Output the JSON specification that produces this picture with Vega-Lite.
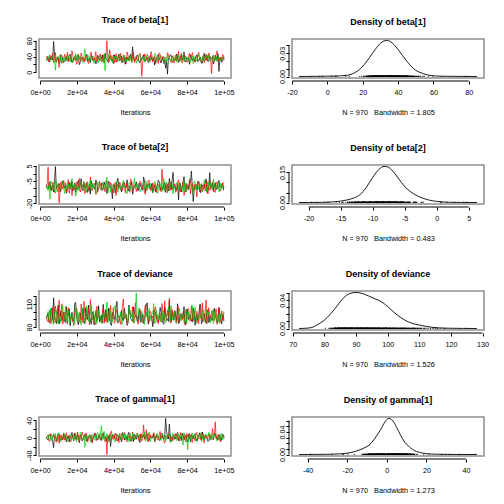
{
"$schema": "https://vega.github.io/schema/vega-lite/v6.json",
"padding": {"left": 24, "top": 15, "right": 0, "bottom": 0},
"background": "white",
"config": {
  "font": "Liberation Sans",
  "view": {"stroke": "#8f8f8f", "strokeWidth": 1.5},
  "axis": {"grid": false, "domain": false, "tickColor": "black", "tickSize": 3, "tickWidth": 1, "offset": 3,
           "labelFont": "Liberation Sans", "labelFontSize": 7.2, "labelColor": "black", "labelOverlap": false, "labelFlush": false, "labelBound": false,
           "titleFont": "Liberation Sans", "titleFontSize": 7.3, "titleFontWeight": "normal", "titleColor": "black"},
  "axisX": {"labelBaseline": "alphabetic", "labelPadding": 10, "labelAngle": 0, "titleBaseline": "alphabetic", "titlePadding": 19.5},
  "axisY": {"labelAngle": -90, "labelAlign": "center", "labelBaseline": "alphabetic", "labelPadding": 2},
  "title": {"font": "Liberation Sans", "fontSize": 9, "fontWeight": "bold", "color": "black", "baseline": "alphabetic", "offset": 12, "anchor": "middle", "frame": "group"}
},
"datasets": {
"tr": [
{"it":3300,"a1":30.4,"a2":36.1,"a3":33.7,"b1":-7.3,"b2":-9.6,"b3":-8.2,"d1":90.5,"d2":94.2,"d3":92.8,"g1":2.3,"g2":-1.6,"g3":4.1},
{"it":4300,"a1":38.2,"a2":28.7,"a3":40.3,"b1":-10.1,"b2":4.2,"b3":-11.4,"d1":98.1,"d2":86.6,"d3":100.3,"g1":-5.2,"g2":6.8,"g3":-3.5},
{"it":5300,"a1":26.8,"a2":44.3,"a3":29.1,"b1":-5.6,"b2":-7.2,"b3":-17.1,"d1":85.7,"d2":102.4,"d3":87.2,"g1":8.6,"g2":-8.1,"g3":7.4},
{"it":6300,"a1":41.5,"a2":31.9,"a3":36.6,"b1":-9.2,"b2":-11.8,"b3":-6.5,"d1":104.3,"d2":91.7,"d3":95.6,"g1":-2.7,"g2":3.4,"g3":-6.2},
{"it":7300,"a1":78.1,"a2":25.4,"a3":24.2,"b1":-12.4,"b2":-6.3,"b3":-9.8,"d1":118.2,"d2":84.9,"d3":83.1,"g1":-22.4,"g2":9.3,"g3":1.8},
{"it":8300,"a1":29.6,"a2":50.2,"a3":5.3,"b1":4.7,"b2":-13.1,"b3":-4.6,"d1":88.4,"d2":107.3,"d3":103.5,"g1":4.5,"g2":-4.7,"g3":10.2},
{"it":9300,"a1":35.3,"a2":33.8,"a3":38.9,"b1":-8.5,"b2":-8.9,"b3":-12.3,"d1":95.9,"d2":89.1,"d3":90.7,"g1":-7.1,"g2":1.2,"g3":-2.8},
{"it":10300,"a1":22.7,"a2":12.4,"a3":31.2,"b1":-6.7,"b2":-19.6,"b3":-7.4,"d1":83.6,"d2":115.2,"d3":97.3,"g1":10.3,"g2":-12.6,"g3":5.7},
{"it":11300,"a1":44.2,"a2":40.6,"a3":45.5,"b1":-11.3,"b2":-5.4,"b3":-10.7,"d1":101.2,"d2":95.5,"d3":85.4,"g1":0.6,"g2":7.2,"g3":-9.3},
{"it":12300,"a1":31.9,"a2":29.3,"a3":27.8,"b1":-4.8,"b2":-10.3,"b3":-5.2,"d1":92.3,"d2":83.8,"d3":108.1,"g1":-4.2,"g2":2.9,"g3":3.6},
{"it":13300,"a1":27.2,"a2":45.7,"a3":35.4,"b1":-9.7,"b2":-7.5,"b3":-13.3,"d1":87.8,"d2":99.4,"d3":93.6,"g1":6.1,"g2":-5.3,"g3":8.4},
{"it":14300,"a1":39.6,"a2":32.2,"a3":30.9,"b1":-13.2,"b2":-12.4,"b3":-8.7,"d1":106.5,"d2":90.9,"d3":88.2,"g1":-9.4,"g2":11.5,"g3":-1.2},
{"it":15300,"a1":33.1,"a2":26.6,"a3":42.4,"b1":-7.6,"b2":-4.1,"b3":-6.9,"d1":94.7,"d2":105.1,"d3":101.8,"g1":3.8,"g2":0.4,"g3":-7.6},
{"it":16300,"a1":46.3,"a2":38.5,"a3":26.7,"b1":-10.4,"b2":-9.8,"b3":-10.2,"d1":81.4,"d2":87.3,"d3":84.9,"g1":-1.5,"g2":-7.3,"g3":6.3},
{"it":17300,"a1":24.9,"a2":54.8,"a3":37.3,"b1":-5.1,"b2":-14.7,"b3":-3.4,"d1":99.2,"d2":93.5,"d3":96.1,"g1":12.2,"g2":4.6,"g3":2.5},
{"it":18300,"a1":36.7,"a2":30.1,"a3":33.2,"b1":-8.3,"b2":-8.2,"b3":-9.5,"d1":90.1,"d2":81.7,"d3":91.4,"g1":-6.8,"g2":8.1,"g3":-4.9},
{"it":19300,"a1":30.2,"a2":42.9,"a3":48.1,"b1":-12.6,"b2":-6.7,"b3":-15.2,"d1":112.4,"d2":101.6,"d3":105.3,"g1":1.7,"g2":-3.8,"g3":11.3},
{"it":20300,"a1":42.8,"a2":24.2,"a3":28.6,"b1":-6.2,"b2":-11.1,"b3":-7.8,"d1":86.2,"d2":96.8,"d3":86.7,"g1":7.4,"g2":13.2,"g3":0.3},
{"it":21300,"a1":19.4,"a2":37.6,"a3":34.5,"b1":-9.9,"b2":-3.3,"b3":-11.6,"d1":96.6,"d2":88.4,"d3":99.9,"g1":-11.2,"g2":-9.5,"g3":-5.1},
{"it":22300,"a1":34.5,"a2":49.1,"a3":39.2,"b1":-3.4,"b2":-10.8,"b3":-5.9,"d1":89.3,"d2":110.1,"d3":82.5,"g1":4.9,"g2":1.7,"g3":9.2},
{"it":23300,"a1":38.3,"a2":27.8,"a3":25.6,"b1":-11.5,"b2":-8.4,"b3":-9.1,"d1":103.8,"d2":85.3,"d3":94.2,"g1":-3.6,"g2":5.4,"g3":-2.2},
{"it":24300,"a1":28.1,"a2":35.5,"a3":59.7,"b1":-8.8,"b2":-13.6,"b3":-6.3,"d1":84.2,"d2":97.6,"d3":90.6,"g1":9.1,"g2":-6.2,"g3":-21.8},
{"it":25300,"a1":45.6,"a2":41.2,"a3":32.3,"b1":-6.1,"b2":-6.5,"b3":-12.8,"d1":93.1,"d2":92.2,"d3":107.7,"g1":-7.5,"g2":10.7,"g3":5.3},
{"it":26300,"a1":32.4,"a2":22.6,"a3":41.8,"b1":-10.7,"b2":-9.1,"b3":-8.4,"d1":108.6,"d2":104.7,"d3":87.4,"g1":2.8,"g2":-2.4,"g3":1.6},
{"it":27300,"a1":25.3,"a2":46.9,"a3":29.4,"b1":-13.8,"b2":-2.3,"b3":-4.2,"d1":88.9,"d2":115.8,"d3":98.3,"g1":5.2,"g2":3.1,"g3":-8.4},
{"it":28300,"a1":40.7,"a2":33.3,"a3":36.2,"b1":-7.2,"b2":-11.4,"b3":-10.6,"d1":97.4,"d2":89.6,"d3":92.1,"g1":-10.3,"g2":-11.1,"g3":7.7},
{"it":29300,"a1":35.8,"a2":29.9,"a3":22.9,"b1":-9.4,"b2":-7.7,"b3":-7.1,"d1":82.7,"d2":94.3,"d3":85.8,"g1":0.9,"g2":7.6,"g3":3.2},
{"it":30300,"a1":21.3,"a2":52.4,"a3":38.4,"b1":-4.3,"b2":-14.2,"b3":-13.5,"d1":100.6,"d2":83.1,"d3":102.2,"g1":8.3,"g2":0.2,"g3":-4.4},
{"it":31300,"a1":43.2,"a2":31.6,"a3":34.9,"b1":-12.1,"b2":-8.6,"b3":-5.7,"d1":91.5,"d2":100.9,"d3":89.5,"g1":-4.8,"g2":-4.5,"g3":12.1},
{"it":32300,"a1":30.6,"a2":38.2,"a3":43.3,"b1":-8.6,"b2":-5.2,"b3":-9.3,"d1":86.4,"d2":91.3,"d3":96.9,"g1":3.4,"g2":9.6,"g3":-1.7},
{"it":33300,"a1":36.2,"a2":26.4,"a3":30.5,"b1":-6.4,"b2":-10.5,"b3":-11.2,"d1":95.3,"d2":87.2,"d3":84.3,"g1":-6.3,"g2":-1.9,"g3":27.6},
{"it":34300,"a1":27.5,"a2":43.7,"a3":27.3,"b1":-10.6,"b2":-7.3,"b3":-6.8,"d1":109.7,"d2":103.4,"d3":99.1,"g1":11.4,"g2":6.3,"g3":4.7},
{"it":35300,"a1":47.9,"a2":34.2,"a3":4.6,"b1":-8.1,"b2":-12.2,"b3":-8.3,"d1":87.3,"d2":95.8,"d3":91.6,"g1":1.1,"g2":-8.2,"g3":-6.5},
{"it":36300,"a1":33.6,"a2":79.8,"a3":37.1,"b1":-13.4,"b2":-4.6,"b3":-2.4,"d1":92.6,"d2":86.1,"d3":112.8,"g1":-8.7,"g2":-38.6,"g3":9.4},
{"it":37300,"a1":24.4,"a2":28.1,"a3":44.6,"b1":-5.3,"b2":-9.4,"b3":-10.1,"d1":104.9,"d2":98.5,"d3":88.3,"g1":4.2,"g2":4.8,"g3":0.5},
{"it":38300,"a1":39.1,"a2":40.5,"a3":31.4,"b1":-9.6,"b2":-6.1,"b3":-12.7,"d1":83.2,"d2":108.2,"d3":95.2,"g1":-19.7,"g2":12.3,"g3":-3.3},
{"it":39300,"a1":31.7,"a2":32.7,"a3":26.2,"b1":-16.8,"b2":-11.7,"b3":-7.6,"d1":98.4,"d2":90.4,"d3":86.6,"g1":6.6,"g2":-3.1,"g3":8.8},
{"it":40300,"a1":44.5,"a2":23.3,"a3":40.8,"b1":-7.7,"b2":-8.3,"b3":-9.2,"d1":90.2,"d2":84.6,"d3":104.4,"g1":-2.1,"g2":7.5,"g3":-7.2},
{"it":41300,"a1":26.6,"a2":47.4,"a3":33.5,"b1":-11.1,"b2":-14.8,"b3":-5.5,"d1":106.1,"d2":102.7,"d3":92.9,"g1":9.5,"g2":-6.6,"g3":2.1},
{"it":42300,"a1":37.3,"a2":36.6,"a3":29.7,"b1":-3.2,"b2":-7.1,"b3":-12.4,"d1":85.1,"d2":93.3,"d3":97.4,"g1":-5.7,"g2":2.4,"g3":6.9},
{"it":43300,"a1":29.3,"a2":30.8,"a3":46.2,"b1":-8.4,"b2":-5.7,"b3":-7.3,"d1":93.9,"d2":88.7,"d3":90.2,"g1":2.6,"g2":10.1,"g3":-5.4},
{"it":44300,"a1":41.1,"a2":25.6,"a3":32.7,"b1":-12.3,"b2":-10.2,"b3":-10.4,"d1":101.8,"d2":96.1,"d3":83.5,"g1":-9.2,"g2":-5.6,"g3":10.5},
{"it":45300,"a1":34.8,"a2":44.1,"a3":25.2,"b1":-6.6,"b2":-8.7,"b3":-4.5,"d1":88.3,"d2":116.6,"d3":101.3,"g1":7.3,"g2":1.5,"g3":1.4},
{"it":46300,"a1":20.6,"a2":37.3,"a3":39.6,"b1":-9.1,"b2":-12.9,"b3":-8.6,"d1":96.2,"d2":91.2,"d3":94.8,"g1":0.2,"g2":8.8,"g3":-2.6},
{"it":47300,"a1":38.7,"a2":51.6,"a3":35.1,"b1":-4.2,"b2":-6.4,"b3":-13.7,"d1":82.1,"d2":85.4,"d3":87.6,"g1":-4.1,"g2":-9.2,"g3":7.1},
{"it":48300,"a1":32.1,"a2":29.5,"a3":28.3,"b1":-10.2,"b2":-9.2,"b3":-6.4,"d1":108.8,"d2":100.3,"d3":106.4,"g1":12.8,"g2":3.7,"g3":-9.1},
{"it":49300,"a1":46.4,"a2":35.2,"a3":42.6,"b1":-7.4,"b2":-3.6,"b3":-11.1,"d1":91.1,"d2":94.6,"d3":92.3,"g1":-7.4,"g2":-2.3,"g3":4.3},
{"it":50300,"a1":64.7,"a2":41.4,"a3":30.3,"b1":-13.9,"b2":-11.3,"b3":-9.7,"d1":87.6,"d2":106.8,"d3":98.7,"g1":3.5,"g2":13.6,"g3":11.2},
{"it":51300,"a1":28.5,"a2":24.9,"a3":37.5,"b1":-8.2,"b2":-7.6,"b3":-3.1,"d1":99.6,"d2":89.2,"d3":85.2,"g1":8.1,"g2":-4.3,"g3":-3.7},
{"it":52300,"a1":35.5,"a2":39.7,"a3":23.4,"b1":-5.5,"b2":-12.1,"b3":-8.8,"d1":94.4,"d2":97.1,"d3":124.6,"g1":-3.2,"g2":6.4,"g3":0.7},
{"it":53300,"a1":40.2,"a2":33.9,"a3":34.3,"b1":-11.6,"b2":-8.8,"b3":-10.5,"d1":86.8,"d2":83.4,"d3":93.5,"g1":5.6,"g2":0.8,"g3":6.5},
{"it":54300,"a1":23.8,"a2":48.3,"a3":41.1,"b1":-7.1,"b2":-5.1,"b3":-12.2,"d1":103.2,"d2":101.9,"d3":89.7,"g1":-10.8,"g2":9.2,"g3":-4.6},
{"it":55300,"a1":33.3,"a2":-9.6,"a3":29.8,"b1":-9.5,"b2":-10.6,"b3":-6.2,"d1":90.7,"d2":92.5,"d3":100.6,"g1":1.4,"g2":-7.7,"g3":9.6},
{"it":56300,"a1":44.9,"a2":38.4,"a3":36.8,"b1":-2.3,"b2":-7.4,"b3":-8.1,"d1":84.5,"d2":88.1,"d3":86.3,"g1":6.7,"g2":29.6,"g3":2.2},
{"it":57300,"a1":30.1,"a2":27.2,"a3":45.1,"b1":-12.2,"b2":-13.9,"b3":-4.7,"d1":97.2,"d2":109.4,"d3":95.7,"g1":-2.2,"g2":2.6,"g3":-7.8},
{"it":58300,"a1":37.6,"a2":45.5,"a3":31.6,"b1":-8.7,"b2":-9.5,"b3":-11.3,"d1":111.7,"d2":95.3,"d3":91.2,"g1":9.3,"g2":-5.8,"g3":5.5},
{"it":59300,"a1":26.3,"a2":31.1,"a3":27.4,"b1":-6.8,"b2":-4.3,"b3":-7.2,"d1":89.8,"d2":86.2,"d3":104.1,"g1":-6.1,"g2":11.2,"g3":12.7},
{"it":60300,"a1":42.4,"a2":52.7,"a3":38.5,"b1":-10.3,"b2":-11.5,"b3":-9.6,"d1":93.3,"d2":99.7,"d3":88.6,"g1":4.4,"g2":-1.3,"g3":-1.4},
{"it":61300,"a1":31.2,"a2":26.3,"a3":33.9,"b1":-12.9,"b2":-6.2,"b3":-12.6,"d1":80.3,"d2":93.9,"d3":97.8,"g1":0.4,"g2":4.1,"g3":3.8},
{"it":62300,"a1":18.3,"a2":40.4,"a3":47.7,"b1":-7.5,"b2":-8.1,"b3":-5.4,"d1":100.4,"d2":104.2,"d3":84.6,"g1":-8.3,"g2":-9.7,"g3":-6.4},
{"it":63300,"a1":36.4,"a2":35.6,"a3":26.1,"b1":-9.3,"b2":-12.7,"b3":-8.5,"d1":92.1,"d2":90.3,"d3":102.5,"g1":7.6,"g2":6.2,"g3":8.3},
{"it":64300,"a1":45.2,"a2":22.4,"a3":35.7,"b1":-4.4,"b2":-7.8,"b3":-10.3,"d1":87.1,"d2":84.2,"d3":90.1,"g1":2.1,"g2":-3.4,"g3":0.1},
{"it":65300,"a1":29.7,"a2":46.1,"a3":40.1,"b1":-11.4,"b2":-9.3,"b3":-6.6,"d1":105.6,"d2":97.5,"d3":94.3,"g1":-5.3,"g2":14.7,"g3":-3.1},
{"it":66300,"a1":34.2,"a2":30.6,"a3":30.2,"b1":-8.9,"b2":2.8,"b3":-12.1,"d1":95.1,"d2":110.8,"d3":87.9,"g1":10.2,"g2":1.6,"g3":10.8},
{"it":67300,"a1":22.1,"a2":39.3,"a3":24.7,"b1":-6.3,"b2":-10.4,"b3":-3.2,"d1":83.4,"d2":88.5,"d3":99.3,"g1":-1.8,"g2":-8.4,"g3":4.2},
{"it":68300,"a1":10.4,"a2":28.2,"a3":37.6,"b1":-12.7,"b2":-6.6,"b3":-9.4,"d1":98.9,"d2":94.1,"d3":85.5,"g1":44.6,"g2":5.1,"g3":-8.2},
{"it":69300,"a1":-4.6,"a2":49.6,"a3":43.4,"b1":-7.3,"b2":-12.8,"b3":-7.3,"d1":90.3,"d2":102.3,"d3":96.4,"g1":3.7,"g2":-2.5,"g3":6.4},
{"it":70300,"a1":38.5,"a2":33.1,"a3":32.8,"b1":-3.3,"b2":-8.2,"b3":-11.5,"d1":114.6,"d2":117.7,"d3":92.2,"g1":31.5,"g2":9.1,"g3":1.3},
{"it":71300,"a1":43.6,"a2":25.7,"a3":28.2,"b1":-10.8,"b2":-5.3,"b3":-5.3,"d1":86.5,"d2":86.4,"d3":107.6,"g1":-8.8,"g2":0.6,"g3":-5.2},
{"it":72300,"a1":27.9,"a2":42.2,"a3":39.5,"b1":0.8,"b2":-11.2,"b3":-13.6,"d1":94.8,"d2":92.6,"d3":89.1,"g1":5.3,"g2":-6.4,"g3":10.1},
{"it":73300,"a1":33.4,"a2":37.4,"a3":34.1,"b1":-8.6,"b2":-7.2,"b3":-9.7,"d1":101.4,"d2":99.2,"d3":95.8,"g1":-3.4,"g2":8.2,"g3":2.7},
{"it":74300,"a1":46.6,"a2":29.1,"a3":25.5,"b1":-11.2,"b2":-9.7,"b3":-6.1,"d1":88.2,"d2":85.7,"d3":84.7,"g1":8.5,"g2":3.3,"g3":-6.3},
{"it":75300,"a1":25.1,"a2":53.6,"a3":44.8,"b1":-17.6,"b2":-4.2,"b3":-10.4,"d1":84.6,"d2":105.6,"d3":100.2,"g1":-6.2,"g2":-4.4,"g3":9.3},
{"it":76300,"a1":39.8,"a2":31.5,"a3":31.3,"b1":-6.5,"b2":-12.3,"b3":-8.7,"d1":96.7,"d2":93.2,"d3":91.3,"g1":1.6,"g2":12.4,"g3":-1.5},
{"it":77300,"a1":31.5,"a2":23.6,"a3":38.2,"b1":-9.2,"b2":-8.5,"b3":-12.1,"d1":91.3,"d2":89.4,"d3":97.2,"g1":10.7,"g2":-1.1,"g3":5.2},
{"it":78300,"a1":51.8,"a2":44.4,"a3":29.2,"b1":-2.1,"b2":-14.6,"b3":-4.4,"d1":106.7,"d2":96.3,"d3":86.1,"g1":-4.5,"g2":7.3,"g3":11.8},
{"it":79300,"a1":28.2,"a2":36.3,"a3":41.7,"b1":-12.4,"b2":-6.4,"b3":-7.5,"d1":85.3,"d2":82.4,"d3":103.3,"g1":6.2,"g2":-9.3,"g3":-4.2},
{"it":80300,"a1":36.1,"a2":27.5,"a3":35.3,"b1":-7.8,"b2":-10.1,"b3":-11.2,"d1":99.5,"d2":103.6,"d3":93.7,"g1":-9.6,"g2":2.3,"g3":-27.6},
{"it":81300,"a1":20.5,"a2":48.2,"a3":27.1,"b1":-5.7,"b2":-3.5,"b3":-9.1,"d1":93.6,"d2":91.8,"d3":88.4,"g1":2.4,"g2":10.4,"g3":3.1},
{"it":82300,"a1":41.3,"a2":32.5,"a3":36.3,"b1":1.6,"b2":-9.6,"b3":-6.7,"d1":89.1,"d2":107.9,"d3":98.6,"g1":7.2,"g2":-5.1,"g3":7.4},
{"it":83300,"a1":34.3,"a2":41.8,"a3":22.4,"b1":-18.7,"b2":-11.4,"b3":-13.2,"d1":104.4,"d2":87.6,"d3":90.4,"g1":-2.5,"g2":4.7,"g3":-2.3},
{"it":84300,"a1":26.4,"a2":26.2,"a3":40.6,"b1":-8.1,"b2":-7.3,"b3":-5.1,"d1":82.2,"d2":95.2,"d3":106.6,"g1":9.2,"g2":-7.5,"g3":6.6},
{"it":85300,"a1":44.1,"a2":38.6,"a3":33.2,"b1":-10.5,"b2":-15.7,"b3":-8.2,"d1":95.4,"d2":100.5,"d3":85.1,"g1":-7.2,"g2":12.8,"g3":-8.9},
{"it":86300,"a1":30.8,"a2":50.9,"a3":46.8,"b1":-5.2,"b2":-5.4,"b3":-10.8,"d1":90.6,"d2":84.3,"d3":94.1,"g1":4.1,"g2":0.1,"g3":4.4},
{"it":87300,"a1":38.2,"a2":30.4,"a3":30.7,"b1":-12.8,"b2":-9.1,"b3":-7.4,"d1":109.5,"d2":93.1,"d3":92.7,"g1":0.7,"g2":-3.6,"g3":9.8},
{"it":88300,"a1":23.5,"a2":35.1,"a3":36.4,"b1":-7.6,"b2":-12.2,"b3":-11.8,"d1":87.3,"d2":111.5,"d3":99.4,"g1":13.6,"g2":8.3,"g3":0.2},
{"it":89300,"a1":48.6,"a2":24.3,"a3":28.9,"b1":-9.8,"b2":-6.8,"b3":-4.3,"d1":97.5,"d2":89.3,"d3":87.1,"g1":-5.2,"g2":-11.8,"g3":-5.3},
{"it":90300,"a1":32.2,"a2":46.3,"a3":42.6,"b1":-3.6,"b2":-8.5,"b3":-9.5,"d1":84.8,"d2":115.6,"d3":101.7,"g1":3.3,"g2":5.2,"g3":8.2},
{"it":91300,"a1":27.6,"a2":33.5,"a3":32.5,"b1":-11.3,"b2":-13.7,"b3":-6.2,"d1":102.3,"d2":94.7,"d3":95.5,"g1":-8.1,"g2":1.3,"g3":2.6},
{"it":92300,"a1":40.5,"a2":39.1,"a3":38.4,"b1":0.6,"b2":-4.4,"b3":-11.3,"d1":91.6,"d2":86.6,"d3":89.8,"g1":6.3,"g2":9.3,"g3":-3.4},
{"it":93300,"a1":35.9,"a2":-2.8,"a3":29.5,"b1":-8.3,"b2":-10.4,"b3":-8.6,"d1":88.7,"d2":100.7,"d3":96.2,"g1":1.5,"g2":-4.2,"g3":10.6},
{"it":94300,"a1":21.2,"a2":42.7,"a3":44.3,"b1":-11.9,"b2":-7.5,"b3":-3.7,"d1":99.1,"d2":90.5,"d3":84.4,"g1":-4.3,"g2":6.1,"g3":-1.1},
{"it":95300,"a1":43.4,"a2":31.2,"a3":34.6,"b1":-6.2,"b2":-12.6,"b3":-10.2,"d1":93.5,"d2":97.4,"d3":102.6,"g1":9.8,"g2":36.7,"g3":5.6},
{"it":96300,"a1":30.3,"a2":54.6,"a3":26.5,"b1":-10.4,"b2":-5.6,"b3":-7.7,"d1":85.6,"d2":83.5,"d3":91.5,"g1":-2.6,"g2":-2.7,"g3":-7.3},
{"it":97300,"a1":2.4,"a2":28.6,"a3":39.3,"b1":-4.6,"b2":-9.3,"b3":-12.3,"d1":105.8,"d2":104.8,"d3":88.9,"g1":5.4,"g2":7.4,"g3":3.3},
{"it":98300,"a1":37.1,"a2":37.7,"a3":31.1,"b1":-9.1,"b2":-11.6,"b3":-6.4,"d1":90.9,"d2":92.9,"d3":97.1,"g1":-6.5,"g2":-8.6,"g3":9.1},
{"it":99300,"a1":29.4,"a2":45.3,"a3":36.9,"b1":-7.6,"b2":-6.3,"b3":-9.4,"d1":96.3,"d2":88.8,"d3":93.4,"g1":8.7,"g2":3.2,"g3":-4.5},
{"it":100000,"a1":33.7,"a2":30.2,"a3":42.1,"b1":-10.9,"b2":-8.3,"b3":-5.6,"d1":87.4,"d2":99.3,"d3":100.8,"g1":0.8,"g2":-1.2,"g3":6.2},
{"it":3800,"a1":35.2,"a2":41.3,"a3":29.8,"b1":-9.4,"b2":-7.1,"b3":-10.3,"d1":93.4,"d2":88.6,"d3":96.1,"g1":-3.1,"g2":4.2,"g3":-1.8},
{"it":4800,"a1":28.4,"a2":27.2,"a3":38.4,"b1":-6.2,"b2":-10.5,"b3":-7.7,"d1":86.1,"d2":97.3,"d3":89.4,"g1":6.4,"g2":-6.9,"g3":8.3},
{"it":5800,"a1":39.7,"a2":33.9,"a3":32.2,"b1":-11.1,"b2":-8.3,"b3":-5.2,"d1":101.7,"d2":84.2,"d3":104.8,"g1":0.8,"g2":9.8,"g3":-4.5},
{"it":6800,"a1":31.1,"a2":48.6,"a3":43.1,"b1":-7.8,"b2":-5.8,"b3":-9.1,"d1":89.5,"d2":105.8,"d3":86.7,"g1":-8.2,"g2":-1.3,"g3":5.6},
{"it":7800,"a1":44.6,"a2":30.4,"a3":27.6,"b1":-5.3,"b2":-12.2,"b3":-12.4,"d1":97.2,"d2":91.5,"d3":93.9,"g1":4.7,"g2":2.6,"g3":2.1},
{"it":8800,"a1":26.3,"a2":25.1,"a3":35.9,"b1":-10.2,"b2":-9.4,"b3":-6.8,"d1":84.3,"d2":99.9,"d3":99.6,"g1":-1.9,"g2":-10.4,"g3":-7.2},
{"it":9800,"a1":37.8,"a2":39.5,"a3":40.7,"b1":-8.6,"b2":-6.7,"b3":-8.3,"d1":108.6,"d2":86.4,"d3":84.1,"g1":9.1,"g2":7.1,"g3":11.8},
{"it":10800,"a1":30.5,"a2":44.8,"a3":25.3,"b1":-12.3,"b2":-11.6,"b3":-11.2,"d1":91.8,"d2":93.7,"d3":91.2,"g1":-5.6,"g2":0.5,"g3":0.6},
{"it":11800,"a1":41.9,"a2":22.9,"a3":36.8,"b1":-6.9,"b2":-8.8,"b3":-7.4,"d1":88.2,"d2":110.3,"d3":102.3,"g1":2.3,"g2":-4.7,"g3":4.9},
{"it":12800,"a1":24.7,"a2":36.3,"a3":31.4,"b1":-9.1,"b2":-4.9,"b3":-9.8,"d1":99.3,"d2":89.2,"d3":88.5,"g1":7.8,"g2":11.4,"g3":-3.3},
{"it":13800,"a1":36.4,"a2":29.6,"a3":42.5,"b1":-7.2,"b2":-9.9,"b3":-6.1,"d1":85.7,"d2":95.1,"d3":107.4,"g1":-2.4,"g2":3.1,"g3":7.1},
{"it":14800,"a1":29.8,"a2":50.7,"a3":28.1,"b1":-10.8,"b2":-7.4,"b3":-11.6,"d1":95.4,"d2":83.6,"d3":92.6,"g1":3.6,"g2":-2.7,"g3":-6.4},
{"it":15800,"a1":43.2,"a2":34.2,"a3":34.6,"b1":-5.9,"b2":-13.1,"b3":-8.9,"d1":103.9,"d2":101.4,"d3":85.3,"g1":-9.3,"g2":6.5,"g3":3.2},
{"it":16800,"a1":33.6,"a2":26.4,"a3":39.3,"b1":-8.4,"b2":-6.2,"b3":-5.7,"d1":90.6,"d2":92.8,"d3":97.9,"g1":5.2,"g2":-8.8,"g3":9.4},
{"it":17800,"a1":27.1,"a2":42.1,"a3":24.7,"b1":-11.7,"b2":-8.7,"b3":-10.2,"d1":87.3,"d2":87.1,"d3":90.1,"g1":-0.7,"g2":1.2,"g3":-1.1},
{"it":18800,"a1":38.9,"a2":37.8,"a3":37.1,"b1":-6.5,"b2":-10.9,"b3":-7.3,"d1":111.2,"d2":98.6,"d3":83.8,"g1":10.6,"g2":8.9,"g3":5.3},
{"it":19800,"a1":32.3,"a2":20.3,"a3":30.2,"b1":-9.3,"b2":-5.6,"b3":-12.9,"d1":94.1,"d2":104.7,"d3":100.7,"g1":-4.1,"g2":-5.1,"g3":-8.9},
{"it":20800,"a1":45.4,"a2":45.9,"a3":45.8,"b1":-4.6,"b2":-9.2,"b3":-9.5,"d1":82.8,"d2":90.3,"d3":94.4,"g1":1.5,"g2":4.6,"g3":2.7},
{"it":21800,"a1":25.8,"a2":31.5,"a3":33.5,"b1":-8.1,"b2":-12.4,"b3":-6.4,"d1":98.5,"d2":85.4,"d3":87.2,"g1":6.9,"g2":-0.8,"g3":12.6},
{"it":22800,"a1":35.7,"a2":38.7,"a3":27.9,"b1":-10.4,"b2":-7.7,"b3":-8.6,"d1":92.2,"d2":96.2,"d3":105.6,"g1":-6.8,"g2":13.7,"g3":-4.1},
{"it":23800,"a1":30.9,"a2":24.8,"a3":38.2,"b1":-6.8,"b2":-5.3,"b3":-11.1,"d1":86.9,"d2":113.6,"d3":91.7,"g1":0.3,"g2":-3.4,"g3":6.2},
{"it":24800,"a1":40.8,"a2":43.4,"a3":31.6,"b1":-9.7,"b2":-10.1,"b3":-7.9,"d1":105.3,"d2":88.9,"d3":86.2,"g1":8.1,"g2":7.6,"g3":-11.7},
{"it":25800,"a1":27.6,"a2":35.1,"a3":44.3,"b1":-12.6,"b2":-8.5,"b3":-5.4,"d1":89.8,"d2":94.4,"d3":98.8,"g1":-3.7,"g2":-9.6,"g3":1.4},
{"it":26800,"a1":36.1,"a2":28.9,"a3":26.2,"b1":-7.4,"b2":-11.9,"b3":-9.7,"d1":96.7,"d2":82.7,"d3":93.3,"g1":4.4,"g2":2.1,"g3":8.5},
{"it":27800,"a1":42.3,"a2":51.2,"a3":35.4,"b1":-5.1,"b2":-7.2,"b3":-10.8,"d1":83.5,"d2":100.1,"d3":109.1,"g1":-7.5,"g2":5.7,"g3":-2.9},
{"it":28800,"a1":29.2,"a2":32.6,"a3":41.1,"b1":-8.9,"b2":-9.6,"b3":-6.6,"d1":100.4,"d2":91.9,"d3":88.4,"g1":2.9,"g2":-1.1,"g3":4.3},
{"it":29800,"a1":34.8,"a2":40.3,"a3":29.7,"b1":-10.6,"b2":-6.4,"b3":-8.2,"d1":93.6,"d2":86.3,"d3":95.2,"g1":11.3,"g2":10.2,"g3":-5.6},
{"it":30800,"a1":23.9,"a2":26.7,"a3":36.9,"b1":-6.3,"b2":-13.4,"b3":-12.2,"d1":88.1,"d2":107.2,"d3":84.6,"g1":-1.2,"g2":-6.3,"g3":10.1},
{"it":31800,"a1":39.4,"a2":37.2,"a3":23.8,"b1":-9.5,"b2":-8.1,"b3":-7.1,"d1":107.8,"d2":93.5,"d3":101.5,"g1":5.8,"g2":3.8,"g3":0.2},
{"it":32800,"a1":31.7,"a2":46.8,"a3":39.7,"b1":-7.1,"b2":-10.7,"b3":-9.3,"d1":91.3,"d2":89.7,"d3":90.8,"g1":-4.9,"g2":-2.2,"g3":7.6},
{"it":33800,"a1":44.1,"a2":30.1,"a3":33.1,"b1":-11.3,"b2":-6.9,"b3":-5.8,"d1":85.2,"d2":97.8,"d3":87.9,"g1":7.2,"g2":9.3,"g3":-3.7},
{"it":34800,"a1":28.6,"a2":23.5,"a3":47.2,"b1":-5.7,"b2":-9.3,"b3":-10.6,"d1":97.9,"d2":84.8,"d3":96.4,"g1":-0.4,"g2":-4.2,"g3":15.2},
{"it":35800,"a1":35.3,"a2":41.8,"a3":28.5,"b1":-8.2,"b2":-4.7,"b3":-8.4,"d1":102.6,"d2":102.9,"d3":92.1,"g1":3.3,"g2":1.6,"g3":2.4},
{"it":36800,"a1":26.8,"a2":35.7,"a3":37.4,"b1":-10.1,"b2":-11.2,"b3":-13.1,"d1":87.6,"d2":95.3,"d3":85.5,"g1":-10.2,"g2":6.8,"g3":-6.1},
{"it":37800,"a1":40.2,"a2":57.3,"a3":30.8,"b1":-6.6,"b2":-8.6,"b3":-6.9,"d1":94.8,"d2":88.4,"d3":103.8,"g1":6.1,"g2":-7.7,"g3":9.6},
{"it":38800,"a1":33.4,"a2":28.2,"a3":42.6,"b1":-9.8,"b2":-7.1,"b3":-9.2,"d1":81.9,"d2":91.2,"d3":89.6,"g1":-2.8,"g2":15.4,"g3":-0.8},
{"it":39800,"a1":22.5,"a2":44.1,"a3":25.9,"b1":-7.5,"b2":-12.8,"b3":-7.6,"d1":99.7,"d2":105.1,"d3":97.7,"g1":1.9,"g2":0.1,"g3":5.7},
{"it":40800,"a1":37.6,"a2":33.4,"a3":34.3,"b1":-12.9,"b2":-5.9,"b3":-11.4,"d1":90.4,"d2":86.7,"d3":108.3,"g1":9.7,"g2":-3.6,"g3":-9.4},
{"it":41800,"a1":30.1,"a2":25.9,"a3":39.8,"b1":-5.4,"b2":-9.8,"b3":-5.3,"d1":113.5,"d2":99.4,"d3":86.9,"g1":-6.1,"g2":8.4,"g3":3.6},
{"it":42800,"a1":46.2,"a2":39.9,"a3":28.2,"b1":-8.7,"b2":-10.3,"b3":-8.8,"d1":86.8,"d2":94.6,"d3":94.2,"g1":4.1,"g2":-11.5,"g3":6.9},
{"it":43800,"a1":32.8,"a2":48.2,"a3":36.7,"b1":-10.3,"b2":-7.5,"b3":-10.1,"d1":95.6,"d2":83.4,"d3":99.1,"g1":-1.6,"g2":5.3,"g3":-2.2},
{"it":44800,"a1":25.4,"a2":31.3,"a3":31.2,"b1":-7.6,"b2":-11.4,"b3":-6.3,"d1":89.1,"d2":108.7,"d3":84.2,"g1":12.1,"g2":-0.6,"g3":4.1},
{"it":45800,"a1":38.3,"a2":36.5,"a3":43.9,"b1":-6.1,"b2":-6.1,"b3":-9.6,"d1":104.2,"d2":90.6,"d3":91.5,"g1":-5.2,"g2":12.7,"g3":8.8},
{"it":46800,"a1":34.7,"a2":22.4,"a3":27.4,"b1":-9.2,"b2":-9.1,"b3":-12.5,"d1":92.7,"d2":96.9,"d3":95.9,"g1":2.7,"g2":-5.9,"g3":-5.3},
{"it":47800,"a1":29.5,"a2":43.7,"a3":38.6,"b1":-11.8,"b2":-8.2,"b3":-7.8,"d1":84.6,"d2":87.8,"d3":88.3,"g1":7.4,"g2":2.8,"g3":1.7},
{"it":48800,"a1":41.6,"a2":34.9,"a3":33.8,"b1":-8.3,"b2":-12.6,"b3":-5.9,"d1":98.3,"d2":101.6,"d3":102.7,"g1":-3.3,"g2":7.9,"g3":11.2},
{"it":49800,"a1":27.9,"a2":27.6,"a3":24.4,"b1":-5.6,"b2":-5.5,"b3":-11.3,"d1":88.4,"d2":93.9,"d3":93.1,"g1":0.6,"g2":-8.2,"g3":-7.8},
{"it":50800,"a1":36.8,"a2":50.1,"a3":40.5,"b1":-10.7,"b2":-10.2,"b3":-8.1,"d1":106.1,"d2":85.1,"d3":86.1,"g1":-8.7,"g2":3.5,"g3":3.1},
{"it":51800,"a1":31.2,"a2":38.4,"a3":35.2,"b1":-7.9,"b2":-7.8,"b3":-9.9,"d1":93.2,"d2":111.8,"d3":97.3,"g1":5.5,"g2":-2.9,"g3":-0.4},
{"it":52800,"a1":43.7,"a2":29.2,"a3":29.1,"b1":-9.6,"b2":-9.7,"b3":-6.7,"d1":87.5,"d2":92.1,"d3":90.5,"g1":3.2,"g2":10.8,"g3":9.3},
{"it":53800,"a1":26.1,"a2":42.6,"a3":44.7,"b1":-6.4,"b2":-11.1,"b3":-8.5,"d1":100.8,"d2":89.4,"d3":105.2,"g1":-4.4,"g2":-6.2,"g3":5.1},
{"it":54800,"a1":35.9,"a2":35.4,"a3":30.6,"b1":-8.8,"b2":-6.6,"b3":-12.1,"d1":85.9,"d2":98.1,"d3":87.4,"g1":8.6,"g2":1.9,"g3":-4.7},
{"it":55800,"a1":39.8,"a2":24.3,"a3":37.3,"b1":-11.2,"b2":-8.9,"b3":-7.2,"d1":96.3,"d2":85.7,"d3":94.8,"g1":1.1,"g2":4.8,"g3":2.6},
{"it":56800,"a1":28.3,"a2":46.5,"a3":26.8,"b1":-5.2,"b2":-13.2,"b3":-10.4,"d1":91.1,"d2":103.3,"d3":83.1,"g1":-2.1,"g2":-3.1,"g3":13.9},
{"it":57800,"a1":33.1,"a2":31.8,"a3":41.4,"b1":-9.9,"b2":-7.3,"b3":-5.6,"d1":109.4,"d2":94.2,"d3":99.4,"g1":6.6,"g2":18.6,"g3":-1.5},
{"it":58800,"a1":24.6,"a2":39.2,"a3":34.1,"b1":-7.3,"b2":-5.2,"b3":-9.4,"d1":83.7,"d2":87.6,"d3":91.3,"g1":-7.1,"g2":-9.1,"g3":7.4},
{"it":59800,"a1":42.4,"a2":27.1,"a3":28.7,"b1":-10.5,"b2":-10.6,"b3":-6.2,"d1":94.5,"d2":100.5,"d3":88.8,"g1":4.9,"g2":6.4,"g3":-8.4},
{"it":60800,"a1":30.7,"a2":44.3,"a3":39.2,"b1":-6.7,"b2":-8.4,"b3":-11.7,"d1":89.3,"d2":91.7,"d3":96.6,"g1":0.2,"g2":-0.2,"g3":4.5},
{"it":61800,"a1":37.2,"a2":33.6,"a3":32.4,"b1":-8.5,"b2":-11.8,"b3":-8.7,"d1":102.1,"d2":84.5,"d3":110.6,"g1":10.3,"g2":11.9,"g3":0.9},
{"it":62800,"a1":29.0,"a2":21.8,"a3":46.3,"b1":-12.1,"b2":-6.8,"b3":-7.5,"d1":97.6,"d2":106.4,"d3":85.7,"g1":-3.9,"g2":2.4,"g3":-3.1},
{"it":63800,"a1":40.5,"a2":37.5,"a3":27.1,"b1":-7.7,"b2":-9.5,"b3":-13.3,"d1":86.4,"d2":95.7,"d3":92.9,"g1":2.5,"g2":-4.8,"g3":10.7},
{"it":64800,"a1":34.4,"a2":49.4,"a3":35.8,"b1":-5.5,"b2":-7.6,"b3":-6.8,"d1":92.9,"d2":90.1,"d3":98.2,"g1":-5.8,"g2":8.2,"g3":3.7},
{"it":65800,"a1":23.7,"a2":29.7,"a3":42.2,"b1":-9.4,"b2":-12.1,"b3":-9.1,"d1":99.1,"d2":86.8,"d3":86.5,"g1":7.7,"g2":-1.6,"g3":-5.9},
{"it":66800,"a1":38.6,"a2":40.6,"a3":30.3,"b1":-10.9,"b2":-5.7,"b3":-7.9,"d1":84.9,"d2":99.2,"d3":101.6,"g1":-0.9,"g2":5.1,"g3":6.6},
{"it":67800,"a1":31.9,"a2":34.3,"a3":37.7,"b1":-6.2,"b2":-10.8,"b3":-11.9,"d1":105.7,"d2":114.3,"d3":89.2,"g1":4.3,"g2":-12.3,"g3":-2.4},
{"it":68800,"a1":27.4,"a2":26.2,"a3":25.6,"b1":-8.6,"b2":-8.2,"b3":-5.5,"d1":90.8,"d2":88.3,"d3":94.6,"g1":13.8,"g2":3.3,"g3":1.3},
{"it":69800,"a1":36.2,"a2":45.2,"a3":40.1,"b1":-11.6,"b2":-6.3,"b3":-10.7,"d1":87.2,"d2":93.6,"d3":106.2,"g1":-2.6,"g2":9.6,"g3":8.1},
{"it":70800,"a1":44.8,"a2":32.1,"a3":33.2,"b1":-7.1,"b2":-11.3,"b3":-8.3,"d1":96.1,"d2":84.9,"d3":87.7,"g1":6.2,"g2":-6.7,"g3":-10.8},
{"it":71800,"a1":25.2,"a2":38.8,"a3":38.9,"b1":-4.9,"b2":-9.1,"b3":-6.4,"d1":101.3,"d2":102.8,"d3":91.9,"g1":-4.6,"g2":0.7,"g3":4.8},
{"it":72800,"a1":33.8,"a2":23.6,"a3":29.5,"b1":-9.3,"b2":-7.4,"b3":-9.6,"d1":88.6,"d2":97.1,"d3":99.8,"g1":1.8,"g2":7.3,"g3":-0.3},
{"it":73800,"a1":30.3,"a2":43.9,"a3":43.3,"b1":-10.4,"b2":-12.7,"b3":-7.1,"d1":94.3,"d2":90.7,"d3":85.1,"g1":9.4,"g2":-2.6,"g3":7.2},
{"it":74800,"a1":39.1,"a2":35.6,"a3":31.9,"b1":-6.9,"b2":-6.1,"b3":-11.2,"d1":110.4,"d2":108.1,"d3":93.4,"g1":-1.7,"g2":13.1,"g3":-4.4},
{"it":75800,"a1":28.8,"a2":28.4,"a3":36.2,"b1":-8.1,"b2":-9.8,"b3":-5.9,"d1":85.5,"d2":86.2,"d3":104.1,"g1":3.9,"g2":-7.4,"g3":2.2},
{"it":76800,"a1":42.9,"a2":47.7,"a3":27.7,"b1":-12.4,"b2":-8.6,"b3":-9.8,"d1":97.4,"d2":95.5,"d3":88.2,"g1":-6.4,"g2":4.1,"g3":9.8},
{"it":77800,"a1":35.6,"a2":31.2,"a3":45.1,"b1":-5.8,"b2":-5.4,"b3":-8.6,"d1":91.6,"d2":99.8,"d3":96.3,"g1":5.1,"g2":1.4,"g3":-16.4},
{"it":78800,"a1":26.5,"a2":39.6,"a3":34.5,"b1":-9.1,"b2":-11.5,"b3":-12.6,"d1":83.2,"d2":83.3,"d3":90.9,"g1":0.9,"g2":-5.3,"g3":5.5},
{"it":79800,"a1":37.4,"a2":25.5,"a3":29.3,"b1":-7.4,"b2":-7.9,"b3":-6.6,"d1":103.4,"d2":92.4,"d3":84.4,"g1":-3.2,"g2":10.5,"g3":-1.9},
{"it":80800,"a1":32.0,"a2":41.4,"a3":38.1,"b1":-10.8,"b2":-10.1,"b3":-10.3,"d1":89.9,"d2":104.4,"d3":100.2,"g1":8.3,"g2":-0.9,"g3":3.4},
{"it":81800,"a1":45.1,"a2":34.7,"a3":24.9,"b1":-6.3,"b2":-13.6,"b3":-7.7,"d1":95.8,"d2":88.1,"d3":92.7,"g1":-8.9,"g2":6.1,"g3":-7.1},
{"it":82800,"a1":29.7,"a2":50.3,"a3":41.8,"b1":-8.9,"b2":-6.5,"b3":-9.2,"d1":86.3,"d2":96.8,"d3":107.9,"g1":2.2,"g2":-10.7,"g3":11.3},
{"it":83800,"a1":34.1,"a2":27.8,"a3":33.7,"b1":-11.5,"b2":-8.8,"b3":-5.4,"d1":99.5,"d2":101.1,"d3":89.3,"g1":6.8,"g2":2.9,"g3":0.7},
{"it":84800,"a1":41.2,"a2":37.9,"a3":28.4,"b1":-7.2,"b2":-10.4,"b3":-10.9,"d1":92.4,"d2":85.3,"d3":95.1,"g1":-2.3,"g2":8.7,"g3":-3.6},
{"it":85800,"a1":27.3,"a2":44.5,"a3":39.5,"b1":-5.3,"b2":-7.1,"b3":-8.1,"d1":87.8,"d2":93.2,"d3":86.4,"g1":0.4,"g2":-3.8,"g3":6.4},
{"it":86800,"a1":36.6,"a2":30.6,"a3":35.3,"b1":-9.7,"b2":-12.3,"b3":-6.7,"d1":106.9,"d2":109.6,"d3":98.5,"g1":11.6,"g2":0.3,"g3":2.9},
{"it":87800,"a1":24.1,"a2":23.1,"a3":26.1,"b1":-8.4,"b2":-6.7,"b3":-11.5,"d1":84.1,"d2":90.2,"d3":91.4,"g1":-4.8,"g2":12.2,"g3":-9.2},
{"it":88800,"a1":38.0,"a2":42.8,"a3":42.9,"b1":-10.2,"b2":-9.4,"b3":-9.3,"d1":96.6,"d2":87.4,"d3":103.1,"g1":3.4,"g2":-6.1,"g3":8.6},
{"it":89800,"a1":31.4,"a2":36.2,"a3":31.1,"b1":-6.6,"b2":-11.7,"b3":-7.4,"d1":90.2,"d2":98.7,"d3":87.1,"g1":7.1,"g2":5.4,"g3":-0.6},
{"it":90800,"a1":43.5,"a2":28.7,"a3":37.6,"b1":-12.7,"b2":-5.1,"b3":-12.3,"d1":101.9,"d2":84.4,"d3":94.3,"g1":-0.6,"g2":-1.8,"g3":4.2},
{"it":91800,"a1":28.1,"a2":48.9,"a3":44.2,"b1":-7.8,"b2":-8.3,"b3":-8.9,"d1":85.8,"d2":105.3,"d3":99.7,"g1":-6.6,"g2":9.1,"g3":12.4},
{"it":92800,"a1":35.0,"a2":33.3,"a3":30.7,"b1":-9.5,"b2":-10.9,"b3":-6.1,"d1":94.7,"d2":91.6,"d3":85.9,"g1":4.6,"g2":-4.4,"g3":-5.2},
{"it":93800,"a1":39.6,"a2":40.7,"a3":36.4,"b1":-5.9,"b2":-7.8,"b3":-10.5,"d1":88.9,"d2":96.4,"d3":102.4,"g1":-1.4,"g2":21.3,"g3":3.1},
{"it":94800,"a1":26.9,"a2":26.6,"a3":27.2,"b1":-8.3,"b2":-12.2,"b3":-7.8,"d1":104.6,"d2":88.7,"d3":90.6,"g1":8.9,"g2":3.9,"g3":7.9},
{"it":95800,"a1":33.2,"a2":45.6,"a3":40.9,"b1":-10.6,"b2":-6.2,"b3":-9.4,"d1":91.4,"d2":103.7,"d3":88.1,"g1":2.6,"g2":-2.1,"g3":-2.7},
{"it":96800,"a1":47.3,"a2":32.9,"a3":33.9,"b1":-6.4,"b2":-9.6,"b3":-5.7,"d1":86.6,"d2":92.3,"d3":96.9,"g1":-5.1,"g2":7.7,"g3":5.8},
{"it":97800,"a1":30.8,"a2":38.1,"a3":29.6,"b1":-9.2,"b2":-11.4,"b3":-11.8,"d1":97.8,"d2":86.1,"d3":84.7,"g1":6.3,"g2":-7.6,"g3":-4.9},
{"it":98800,"a1":25.7,"a2":29.4,"a3":38.7,"b1":-7.5,"b2":-8.1,"b3":-8.2,"d1":83.9,"d2":100.9,"d3":92.5,"g1":-2.9,"g2":1.1,"g3":10.4},
{"it":99800,"a1":37.9,"a2":43.0,"a3":34.8,"b1":-11.1,"b2":-10.3,"b3":-6.9,"d1":93.1,"d2":94.8,"d3":98.4,"g1":3.7,"g2":5.9,"g3":1.6}
],
"dn": [
{"p":"a","x":-16,"y":0.0001},{"p":"a","x":-10,"y":0.0002},{"p":"a","x":-5,"y":0.0003},{"p":"a","x":0,"y":0.0005},{"p":"a","x":5,"y":0.0007},{"p":"a","x":10,"y":0.0013},{"p":"a","x":14,"y":0.0034},{"p":"a","x":18,"y":0.0088},{"p":"a","x":21,"y":0.0158},{"p":"a","x":24,"y":0.0249},{"p":"a","x":27,"y":0.0347},{"p":"a","x":30,"y":0.0427},{"p":"a","x":32,"y":0.0458},{"p":"a","x":34,"y":0.0465},{"p":"a","x":36,"y":0.0445},{"p":"a","x":38,"y":0.0404},{"p":"a","x":41,"y":0.0318},{"p":"a","x":44,"y":0.0225},{"p":"a","x":47,"y":0.0142},{"p":"a","x":50,"y":0.008},{"p":"a","x":53,"y":0.0048},{"p":"a","x":56,"y":0.0025},{"p":"a","x":60,"y":0.001},{"p":"a","x":65,"y":0.0004},{"p":"a","x":70,"y":0.0003},{"p":"a","x":75,"y":0.0002},{"p":"a","x":80,"y":0.0001},{"p":"a","x":84.6,"y":0.00005},
{"p":"b","x":-21.5,"y":0.0002},{"p":"b","x":-20,"y":0.0004},{"p":"b","x":-18,"y":0.001},{"p":"b","x":-16,"y":0.004},{"p":"b","x":-15,"y":0.007},{"p":"b","x":-14,"y":0.013},{"p":"b","x":-13,"y":0.022},{"p":"b","x":-12,"y":0.039},{"p":"b","x":-11,"y":0.075},{"p":"b","x":-10,"y":0.125},{"p":"b","x":-9,"y":0.166},{"p":"b","x":-8.2,"y":0.18},{"p":"b","x":-7.5,"y":0.176},{"p":"b","x":-7,"y":0.162},{"p":"b","x":-6,"y":0.122},{"p":"b","x":-5,"y":0.08},{"p":"b","x":-4,"y":0.052},{"p":"b","x":-3,"y":0.033},{"p":"b","x":-2,"y":0.02},{"p":"b","x":-1,"y":0.011},{"p":"b","x":0,"y":0.006},{"p":"b","x":1,"y":0.003},{"p":"b","x":2,"y":0.0015},{"p":"b","x":4,"y":0.0006},{"p":"b","x":6.3,"y":0.0002},
{"p":"d","x":72,"y":0.0001},{"p":"d","x":74,"y":0.0004},{"p":"d","x":76,"y":0.0015},{"p":"d","x":78,"y":0.006},{"p":"d","x":80,"y":0.012},{"p":"d","x":82,"y":0.021},{"p":"d","x":84,"y":0.032},{"p":"d","x":86,"y":0.043},{"p":"d","x":88,"y":0.0495},{"p":"d","x":90,"y":0.051},{"p":"d","x":92,"y":0.0495},{"p":"d","x":94,"y":0.046},{"p":"d","x":96,"y":0.042},{"p":"d","x":98,"y":0.038},{"p":"d","x":100,"y":0.031},{"p":"d","x":102,"y":0.023},{"p":"d","x":104,"y":0.016},{"p":"d","x":106,"y":0.0105},{"p":"d","x":108,"y":0.007},{"p":"d","x":110,"y":0.005},{"p":"d","x":112,"y":0.0032},{"p":"d","x":114,"y":0.0018},{"p":"d","x":116,"y":0.001},{"p":"d","x":120,"y":0.0004},{"p":"d","x":124,"y":0.0002},{"p":"d","x":128.2,"y":0.0001},
{"p":"g","x":-44.3,"y":0.0001},{"p":"g","x":-40,"y":0.0002},{"p":"g","x":-35,"y":0.0003},{"p":"g","x":-30,"y":0.0005},{"p":"g","x":-25,"y":0.001},{"p":"g","x":-20,"y":0.0025},{"p":"g","x":-17,"y":0.0045},{"p":"g","x":-14,"y":0.008},{"p":"g","x":-11,"y":0.0125},{"p":"g","x":-9,"y":0.0165},{"p":"g","x":-7,"y":0.024},{"p":"g","x":-5,"y":0.034},{"p":"g","x":-3,"y":0.045},{"p":"g","x":-1,"y":0.0575},{"p":"g","x":1,"y":0.064},{"p":"g","x":3,"y":0.06},{"p":"g","x":5,"y":0.048},{"p":"g","x":7,"y":0.034},{"p":"g","x":9,"y":0.022},{"p":"g","x":11,"y":0.015},{"p":"g","x":13,"y":0.009},{"p":"g","x":15,"y":0.0055},{"p":"g","x":17,"y":0.0035},{"p":"g","x":20,"y":0.0015},{"p":"g","x":25,"y":0.0006},{"p":"g","x":30,"y":0.0003},{"p":"g","x":35,"y":0.0002},{"p":"g","x":40,"y":0.0001},{"p":"g","x":45.5,"y":0.0001}
]
},
"columns": 2,
"spacing": {"row": 87, "column": 61},
"bounds": "flush",
"concat": [
{
 "width": 192, "height": 39, "title": "Trace of beta[1]", "data": {"name": "tr"},
 "layer": [
  {"mark": {"type": "line", "color": "black", "strokeWidth": 0.7},
   "encoding": {"x": {"field": "it", "type": "quantitative", "scale": {"domain": [-650, 103870], "nice": false, "zero": false},
                      "axis": {"title": "Iterations", "tickCount": 20, "values": [0, 20000, 40000, 60000, 80000, 100000], "labelExpr": "datum.value == 0 ? '0e+00' : datum.value == 100000 ? '1e+05' : (datum.value / 10000) + 'e+04'"}},
                "y": {"field": "a1", "type": "quantitative", "scale": {"domain": [-14.3, 84.5], "nice": false, "zero": false},
                      "axis": {"title": null, "tickCount": 20, "values": [0, 20, 40, 60, 80], "labelExpr": "datum.value % 40 == 0 ? '' + datum.value : ''"}}}},
  {"mark": {"type": "line", "color": "#ff0000", "strokeWidth": 0.7}, "encoding": {"x": {"field": "it", "type": "quantitative"}, "y": {"field": "a2", "type": "quantitative"}}},
  {"mark": {"type": "line", "color": "#00cd00", "strokeWidth": 0.7}, "encoding": {"x": {"field": "it", "type": "quantitative"}, "y": {"field": "a3", "type": "quantitative"}}},
  {"data": {"values": [{}]}, "mark": {"type": "rule", "color": "black", "yOffset": 3}, "encoding": {"x": {"datum": 0, "type": "quantitative"}, "x2": {"datum": 100000}, "y": {"datum": -14.3, "type": "quantitative"}}},
  {"data": {"values": [{}]}, "mark": {"type": "rule", "color": "black", "xOffset": -3}, "encoding": {"x": {"datum": -650, "type": "quantitative"}, "y": {"datum": 0, "type": "quantitative"}, "y2": {"datum": 80}}}
 ]
},
{
 "width": 192, "height": 39, "title": "Density of beta[1]",
 "layer": [
  {"data": {"name": "dn"}, "transform": [{"filter": "datum.p == 'a'"}],
   "mark": {"type": "line", "color": "black", "strokeWidth": 0.9, "interpolate": "monotone"},
   "encoding": {"x": {"field": "x", "type": "quantitative", "scale": {"domain": [-20, 88.6], "nice": false, "zero": false},
                      "axis": {"title": "N = 970\u00a0\u00a0\u00a0Bandwidth = 1.805", "tickCount": 20, "values": [-20, 0, 20, 40, 60, 80], "labelExpr": "'' + datum.value"}},
                "y": {"field": "y", "type": "quantitative", "scale": {"domain": [-0.00186, 0.04836], "nice": false, "zero": false},
                      "axis": {"title": null, "tickCount": 20, "values": [0, 0.01, 0.02, 0.03, 0.04], "labelExpr": "datum.value == 0 || datum.value == 0.03 ? format(datum.value, '.2f') : ''"}}}},
  {"data": {"name": "tr"}, "transform": [{"fold": ["a1", "a2", "a3"], "as": ["c", "v"]}],
   "mark": {"type": "rule", "color": "black", "strokeWidth": 0.8, "strokeCap": "round"},
   "encoding": {"x": {"field": "v", "type": "quantitative"}, "y": {"datum": 0, "type": "quantitative"}, "y2": {"datum": 0.000465}}},
  {"data": {"values": [{}]}, "mark": {"type": "rule", "color": "black", "yOffset": 3}, "encoding": {"x": {"datum": -20, "type": "quantitative"}, "x2": {"datum": 80}, "y": {"datum": -0.00186, "type": "quantitative"}}},
  {"data": {"values": [{}]}, "mark": {"type": "rule", "color": "black", "xOffset": -3}, "encoding": {"x": {"datum": -20, "type": "quantitative"}, "y": {"datum": 0, "type": "quantitative"}, "y2": {"datum": 0.04}}}
 ]
},
{
 "width": 192, "height": 39, "title": "Trace of beta[2]", "data": {"name": "tr"},
 "layer": [
  {"mark": {"type": "line", "color": "black", "strokeWidth": 0.7},
   "encoding": {"x": {"field": "it", "type": "quantitative", "scale": {"domain": [-650, 103870], "nice": false, "zero": false},
                      "axis": {"title": "Iterations", "tickCount": 20, "values": [0, 20000, 40000, 60000, 80000, 100000], "labelExpr": "datum.value == 0 ? '0e+00' : datum.value == 100000 ? '1e+05' : (datum.value / 10000) + 'e+04'"}},
                "y": {"field": "b1", "type": "quantitative", "scale": {"domain": [-20.4, 5.7], "nice": false, "zero": false},
                      "axis": {"title": null, "tickCount": 20, "values": [-20, -15, -10, -5, 0, 5], "labelExpr": "datum.value == -20 || datum.value == -5 || datum.value == 5 ? '' + datum.value : ''"}}}},
  {"mark": {"type": "line", "color": "#ff0000", "strokeWidth": 0.7}, "encoding": {"x": {"field": "it", "type": "quantitative"}, "y": {"field": "b2", "type": "quantitative"}}},
  {"mark": {"type": "line", "color": "#00cd00", "strokeWidth": 0.7}, "encoding": {"x": {"field": "it", "type": "quantitative"}, "y": {"field": "b3", "type": "quantitative"}}},
  {"data": {"values": [{}]}, "mark": {"type": "rule", "color": "black", "yOffset": 3}, "encoding": {"x": {"datum": 0, "type": "quantitative"}, "x2": {"datum": 100000}, "y": {"datum": -20.4, "type": "quantitative"}}},
  {"data": {"values": [{}]}, "mark": {"type": "rule", "color": "black", "xOffset": -3}, "encoding": {"x": {"datum": -650, "type": "quantitative"}, "y": {"datum": -20, "type": "quantitative"}, "y2": {"datum": 5}}}
 ]
},
{
 "width": 192, "height": 39, "title": "Density of beta[2]",
 "layer": [
  {"data": {"name": "dn"}, "transform": [{"filter": "datum.p == 'b'"}],
   "mark": {"type": "line", "color": "black", "strokeWidth": 0.9, "interpolate": "monotone"},
   "encoding": {"x": {"field": "x", "type": "quantitative", "scale": {"domain": [-22.6, 7.4], "nice": false, "zero": false},
                      "axis": {"title": "N = 970\u00a0\u00a0\u00a0Bandwidth = 0.483", "tickCount": 20, "values": [-20, -15, -10, -5, 0, 5], "labelExpr": "'' + datum.value"}},
                "y": {"field": "y", "type": "quantitative", "scale": {"domain": [-0.0072, 0.1872], "nice": false, "zero": false},
                      "axis": {"title": null, "tickCount": 20, "values": [0, 0.05, 0.1, 0.15], "labelExpr": "datum.value == 0 || datum.value == 0.15 ? format(datum.value, '.2f') : ''"}}}},
  {"data": {"name": "tr"}, "transform": [{"fold": ["b1", "b2", "b3"], "as": ["c", "v"]}],
   "mark": {"type": "rule", "color": "black", "strokeWidth": 0.8, "strokeCap": "round"},
   "encoding": {"x": {"field": "v", "type": "quantitative"}, "y": {"datum": 0, "type": "quantitative"}, "y2": {"datum": 0.0018}}},
  {"data": {"values": [{}]}, "mark": {"type": "rule", "color": "black", "yOffset": 3}, "encoding": {"x": {"datum": -20, "type": "quantitative"}, "x2": {"datum": 5}, "y": {"datum": -0.0072, "type": "quantitative"}}},
  {"data": {"values": [{}]}, "mark": {"type": "rule", "color": "black", "xOffset": -3}, "encoding": {"x": {"datum": -22.6, "type": "quantitative"}, "y": {"datum": 0, "type": "quantitative"}, "y2": {"datum": 0.15}}}
 ]
},
{
 "width": 192, "height": 39, "title": "Trace of deviance", "data": {"name": "tr"},
 "layer": [
  {"mark": {"type": "line", "color": "black", "strokeWidth": 0.7},
   "encoding": {"x": {"field": "it", "type": "quantitative", "scale": {"domain": [-650, 103870], "nice": false, "zero": false},
                      "axis": {"title": "Iterations", "tickCount": 20, "values": [0, 20000, 40000, 60000, 80000, 100000], "labelExpr": "datum.value == 0 ? '0e+00' : datum.value == 100000 ? '1e+05' : (datum.value / 10000) + 'e+04'"}},
                "y": {"field": "d1", "type": "quantitative", "scale": {"domain": [76, 127.2], "nice": false, "zero": false},
                      "axis": {"title": null, "tickCount": 20, "values": [80, 90, 100, 110, 120], "labelExpr": "datum.value == 80 || datum.value == 110 ? '' + datum.value : ''"}}}},
  {"mark": {"type": "line", "color": "#ff0000", "strokeWidth": 0.7}, "encoding": {"x": {"field": "it", "type": "quantitative"}, "y": {"field": "d2", "type": "quantitative"}}},
  {"mark": {"type": "line", "color": "#00cd00", "strokeWidth": 0.7}, "encoding": {"x": {"field": "it", "type": "quantitative"}, "y": {"field": "d3", "type": "quantitative"}}},
  {"data": {"values": [{}]}, "mark": {"type": "rule", "color": "black", "yOffset": 3}, "encoding": {"x": {"datum": 0, "type": "quantitative"}, "x2": {"datum": 100000}, "y": {"datum": 76, "type": "quantitative"}}},
  {"data": {"values": [{}]}, "mark": {"type": "rule", "color": "black", "xOffset": -3}, "encoding": {"x": {"datum": -650, "type": "quantitative"}, "y": {"datum": 80, "type": "quantitative"}, "y2": {"datum": 120}}}
 ]
},
{
 "width": 192, "height": 39, "title": "Density of deviance",
 "layer": [
  {"data": {"name": "dn"}, "transform": [{"filter": "datum.p == 'd'"}],
   "mark": {"type": "line", "color": "black", "strokeWidth": 0.9, "interpolate": "monotone"},
   "encoding": {"x": {"field": "x", "type": "quantitative", "scale": {"domain": [69.75, 130.45], "nice": false, "zero": false},
                      "axis": {"title": "N = 970\u00a0\u00a0\u00a0Bandwidth = 1.526", "tickCount": 20, "values": [70, 80, 90, 100, 110, 120, 130], "labelExpr": "'' + datum.value"}},
                "y": {"field": "y", "type": "quantitative", "scale": {"domain": [-0.00204, 0.05304], "nice": false, "zero": false},
                      "axis": {"title": null, "tickCount": 20, "values": [0, 0.01, 0.02, 0.03, 0.04, 0.05], "labelExpr": "datum.value == 0 || datum.value == 0.04 ? format(datum.value, '.2f') : ''"}}}},
  {"data": {"name": "tr"}, "transform": [{"fold": ["d1", "d2", "d3"], "as": ["c", "v"]}],
   "mark": {"type": "rule", "color": "black", "strokeWidth": 0.8, "strokeCap": "round"},
   "encoding": {"x": {"field": "v", "type": "quantitative"}, "y": {"datum": 0, "type": "quantitative"}, "y2": {"datum": 0.00051}}},
  {"data": {"values": [{}]}, "mark": {"type": "rule", "color": "black", "yOffset": 3}, "encoding": {"x": {"datum": 70, "type": "quantitative"}, "x2": {"datum": 130}, "y": {"datum": -0.00204, "type": "quantitative"}}},
  {"data": {"values": [{}]}, "mark": {"type": "rule", "color": "black", "xOffset": -3}, "encoding": {"x": {"datum": 69.75, "type": "quantitative"}, "y": {"datum": 0, "type": "quantitative"}, "y2": {"datum": 0.05}}}
 ]
},
{
 "width": 192, "height": 39, "title": "Trace of gamma[1]", "data": {"name": "tr"},
 "layer": [
  {"mark": {"type": "line", "color": "black", "strokeWidth": 0.7},
   "encoding": {"x": {"field": "it", "type": "quantitative", "scale": {"domain": [-650, 103870], "nice": false, "zero": false},
                      "axis": {"title": "Iterations", "tickCount": 20, "values": [0, 20000, 40000, 60000, 80000, 100000], "labelExpr": "datum.value == 0 ? '0e+00' : datum.value == 100000 ? '1e+05' : (datum.value / 10000) + 'e+04'"}},
                "y": {"field": "g1", "type": "quantitative", "scale": {"domain": [-41.6, 47.8], "nice": false, "zero": false},
                      "axis": {"title": null, "tickCount": 20, "values": [-40, -20, 0, 20, 40], "labelExpr": "datum.value % 40 == 0 ? '' + datum.value : ''"}}}},
  {"mark": {"type": "line", "color": "#ff0000", "strokeWidth": 0.7}, "encoding": {"x": {"field": "it", "type": "quantitative"}, "y": {"field": "g2", "type": "quantitative"}}},
  {"mark": {"type": "line", "color": "#00cd00", "strokeWidth": 0.7}, "encoding": {"x": {"field": "it", "type": "quantitative"}, "y": {"field": "g3", "type": "quantitative"}}},
  {"data": {"values": [{}]}, "mark": {"type": "rule", "color": "black", "yOffset": 3}, "encoding": {"x": {"datum": 0, "type": "quantitative"}, "x2": {"datum": 100000}, "y": {"datum": -41.6, "type": "quantitative"}}},
  {"data": {"values": [{}]}, "mark": {"type": "rule", "color": "black", "xOffset": -3}, "encoding": {"x": {"datum": -650, "type": "quantitative"}, "y": {"datum": -40, "type": "quantitative"}, "y2": {"datum": 40}}}
 ]
},
{
 "width": 192, "height": 39, "title": "Density of gamma[1]",
 "layer": [
  {"data": {"name": "dn"}, "transform": [{"filter": "datum.p == 'g'"}],
   "mark": {"type": "line", "color": "black", "strokeWidth": 0.9, "interpolate": "monotone"},
   "encoding": {"x": {"field": "x", "type": "quantitative", "scale": {"domain": [-47.9, 49.1], "nice": false, "zero": false},
                      "axis": {"title": "N = 970\u00a0\u00a0\u00a0Bandwidth = 1.273", "tickCount": 20, "values": [-40, -20, 0, 20, 40], "labelExpr": "'' + datum.value"}},
                "y": {"field": "y", "type": "quantitative", "scale": {"domain": [-0.00256, 0.06656], "nice": false, "zero": false},
                      "axis": {"title": null, "tickCount": 20, "values": [0, 0.01, 0.02, 0.03, 0.04, 0.05, 0.06], "labelExpr": "datum.value == 0 || datum.value == 0.04 ? format(datum.value, '.2f') : ''"}}}},
  {"data": {"name": "tr"}, "transform": [{"fold": ["g1", "g2", "g3"], "as": ["c", "v"]}],
   "mark": {"type": "rule", "color": "black", "strokeWidth": 0.8, "strokeCap": "round"},
   "encoding": {"x": {"field": "v", "type": "quantitative"}, "y": {"datum": 0, "type": "quantitative"}, "y2": {"datum": 0.00064}}},
  {"data": {"values": [{}]}, "mark": {"type": "rule", "color": "black", "yOffset": 3}, "encoding": {"x": {"datum": -40, "type": "quantitative"}, "x2": {"datum": 40}, "y": {"datum": -0.00256, "type": "quantitative"}}},
  {"data": {"values": [{}]}, "mark": {"type": "rule", "color": "black", "xOffset": -3}, "encoding": {"x": {"datum": -47.9, "type": "quantitative"}, "y": {"datum": 0, "type": "quantitative"}, "y2": {"datum": 0.06}}}
 ]
}
]
}
